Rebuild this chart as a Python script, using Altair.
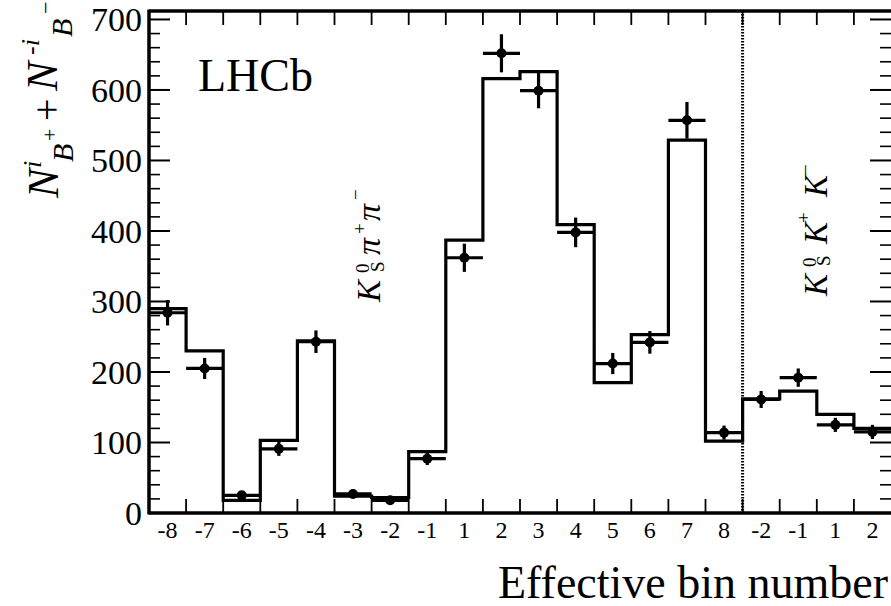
import altair as alt
import pandas as pd

# ---------------- data ----------------
bin_labels = ["-8", "-7", "-6", "-5", "-4", "-3", "-2", "-1",
              "1", "2", "3", "4", "5", "6", "7", "8",
              "-2", "-1", "1", "2"]
model_counts = [290, 230, 18, 103, 244, 24, 22, 87,
                387, 616, 626, 409, 185, 253, 529, 102,
                162, 173, 140, 120]
data_counts = [284, 205, 25, 91, 243, 27, 18, 77,
               362, 652, 599, 398, 212, 242, 557, 114,
               161, 192, 125, 115]
data_errors = [18, 15, 6, 10, 16, 6, 6, 9,
               20, 27, 25, 21, 15, 16, 26, 10,
               12, 13, 10, 10]
y_major = [0, 100, 200, 300, 400, 500, 600, 700]
y_minor = [v for v in range(20, 711, 20) if v % 100 != 0]
channel_boundary = [16]

# ---------------- layout / style ----------------
W, H = 742, 502
YMAX = 712
FONT = "Liberation Serif"

n = len(bin_labels)
bins = pd.DataFrame({
    "lo": list(range(n)),
    "hi": list(range(1, n + 1)),
    "mid": [i + 0.5 for i in range(n)],
    "lab": bin_labels,
    "model": model_counts,
    "val": data_counts,
    "err": data_errors,
})
bins["low"] = bins["val"] - bins["err"]
bins["high"] = bins["val"] + bins["err"]
step = pd.DataFrame({"edge": list(range(n + 1)),
                     "model": model_counts + [model_counts[-1]]})
edges = pd.DataFrame({"e": list(range(1, n))})
ylabs = pd.DataFrame({"v": y_major, "t": [str(v) for v in y_major]})
one = pd.DataFrame({"k": [0]})

xs = alt.Scale(domain=[0, n], nice=False, zero=False)
ys = alt.Scale(domain=[0, YMAX], nice=False)

hist = alt.Chart(step).mark_line(interpolate="step-after", color="black",
                                 strokeWidth=3.2, strokeCap="butt").encode(
    x=alt.X("edge:Q", scale=xs, axis=None),
    y=alt.Y("model:Q", scale=ys, axis=None),
)

xerr = alt.Chart(bins).mark_rule(color="black", strokeWidth=3.2).encode(
    x=alt.X("lo:Q", scale=xs, axis=None), x2="hi:Q",
    y=alt.Y("val:Q", scale=ys, axis=None),
)
yerr = alt.Chart(bins).mark_rule(color="black", strokeWidth=3.2).encode(
    x=alt.X("mid:Q", scale=xs, axis=None),
    y=alt.Y("low:Q", scale=ys, axis=None), y2="high:Q",
)
pts = alt.Chart(bins).mark_circle(color="black", opacity=1, size=100).encode(
    x=alt.X("mid:Q", scale=xs, axis=None),
    y=alt.Y("val:Q", scale=ys, axis=None),
)

# tick labels drawn through the scales
xlabels = alt.Chart(bins).mark_text(font=FONT, fontSize=24, color="black",
                                    align="center", baseline="top").encode(
    x=alt.X("mid:Q", scale=xs, axis=None), y=alt.value(H + 6), text="lab:N")
ylabels = alt.Chart(ylabs).mark_text(font=FONT, fontSize=34, color="black",
                                     align="right", baseline="middle", dy=2).encode(
    y=alt.Y("v:Q", scale=ys, axis=None), x=alt.value(-7), text="t:N")

# inward ticks
def yticks(vals, x1, x2, w):
    return alt.Chart(pd.DataFrame({"v": vals})).mark_rule(color="black", strokeWidth=w).encode(
        y=alt.Y("v:Q", scale=ys, axis=None), x=alt.value(x1), x2=alt.value(x2))

def xticks(y1, y2):
    return alt.Chart(edges).mark_rule(color="black", strokeWidth=1.8).encode(
        x=alt.X("e:Q", scale=xs, axis=None), y=alt.value(y1), y2=alt.value(y2))

ticks = [
    yticks(y_major, 0, 21, 2), yticks(y_minor, 0, 11, 1.6),
    yticks(y_major, W, W - 21, 2), yticks(y_minor, W, W - 11, 1.6),
    xticks(H, H - 14), xticks(0, 14),
]

divider = alt.Chart(pd.DataFrame({"b": channel_boundary})).mark_rule(
    color="black", strokeWidth=3, strokeDash=[1.5, 1.5]).encode(
    x=alt.X("b:Q", scale=xs, axis=None), y=alt.value(0), y2=alt.value(H))

def frame(**enc):
    return alt.Chart(one).mark_rule(color="black", strokeWidth=3.5).encode(**enc)

frames = [
    frame(x=alt.value(0), y=alt.value(-1.5), y2=alt.value(H + 1.5)),
    frame(y=alt.value(H), x=alt.value(0), x2=alt.value(W)),
    frame(y=alt.value(0), x=alt.value(0), x2=alt.value(W)),
]

def txt(s, x, y, size, italic=False, angle=270, align="left"):
    return alt.Chart(one).mark_text(
        text=s, font=FONT, fontSize=size, fontStyle="italic" if italic else "normal",
        angle=angle, align=align, baseline="alphabetic", color="black").encode(
        x=alt.value(x), y=alt.value(y))

texts = [
    # y title  N^i_{B+} + N^{-i}_{B-}
    txt("N", -91, 187, 44, True),
    txt("i", -108, 157, 26, True),
    txt("B", -76, 151, 30, True),
    txt("+", -92, 130, 22),
    txt("+", -89, 110, 40),
    txt("N", -92, 80, 44, True),
    txt("-i", -110, 44, 26, True),
    txt("B", -77, 26, 30, True),
    txt("\u2212", -96, 3, 22),
    # K_S^0 pi+ pi-
    txt("K", 231, 291, 33, True),
    txt("0", 220, 262, 19),
    txt("S", 235, 261, 19),
    txt("\u03c0", 231, 244, 34, True),
    txt("+", 217, 223, 19),
    txt("\u03c0", 231, 210, 34, True),
    txt("\u2212", 213, 189, 19),
    # K_S^0 K+ K-
    txt("K", 678, 285, 33, True),
    txt("0", 667, 256, 19),
    txt("S", 681, 255, 19),
    txt("K", 678, 233, 33, True),
    txt("+", 661, 212, 19),
    txt("K", 678, 186, 33, True),
    txt("\u2212", 663, 164, 19),
    # LHCb and x title
    txt("LHCb", 49, 80, 46, angle=0),
    txt("Effective bin number", 739, 587, 46, angle=0, align="right"),
]

chart = alt.layer(
    hist, xerr, yerr, pts, divider, *ticks, *frames, xlabels, ylabels, *texts
).properties(
    width=W, height=H,
    padding={"left": 149, "top": 11, "right": 0, "bottom": 93},
    autosize=alt.AutoSizeParams(type="none"),
    background="white",
).configure_view(stroke=None)

chart.save("out.html", embed_options={"renderer": "svg", "actions": False})
